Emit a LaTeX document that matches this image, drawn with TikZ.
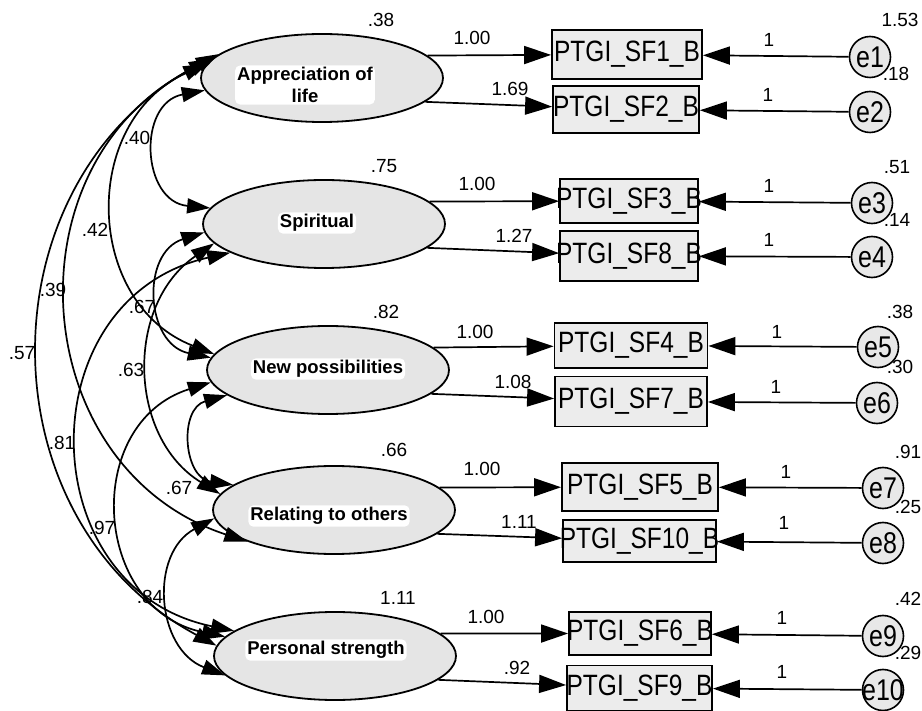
\documentclass[tikz,border=0pt]{standalone}
\usepackage{fontspec}
\setmainfont{Liberation Sans}
\usepackage{graphicx}
\usetikzlibrary{arrows.meta,shapes.geometric}
\newcommand\btxt[1]{\makebox[0pt]{\scalebox{1}[1.2]{#1}}}
\begin{document}
\begin{tikzpicture}[x=1pt,y=-1pt,
  lat/.style={ellipse, draw, line width=1.8pt, fill=gray!20, minimum width=242pt, minimum height=88pt, inner sep=0pt},
  ltxt/.style={font=\fontsize{18.5}{21.5}\selectfont\bfseries, fill=white, rounded corners=5pt, inner sep=2pt, align=center},
  obs/.style={rectangle, draw, line width=1.8pt, fill=gray!15, inner sep=0pt, font=\fontsize{24.5}{26}\selectfont},
  err/.style={circle, draw, line width=1.6pt, fill=gray!18, minimum size=41pt, inner sep=0pt, font=\fontsize{25}{26}\selectfont},
  num/.style={font=\fontsize{19}{21}\selectfont, inner sep=0pt},
  arr/.style={line width=1.7pt, -{Triangle[length=27pt,width=18pt]}},
  cov/.style={line width=1.7pt, {Triangle[length=23pt,width=15pt]}-{Triangle[length=23pt,width=15pt]}}]
\useasboundingbox (0,0) rectangle (922,711);
\fill[white] (0,0) rectangle (922,711);

% latent factors
\node[lat] (F1) at (322,78) {};
\node[lat] (F2) at (324,224) {};
\node[lat] (F3) at (328,370) {};
\node[lat] (F4) at (334,510) {};
\node[lat] (F5) at (335,656) {};

% covariances
\draw[cov] (F1.186) .. controls +(-67.9,12.8) and +(-68.8,-6.4) .. (F2.172);
\draw[cov] (F1.173) .. controls +(-126.8,58.0) and +(-130.0,-50.5) .. (F3.172);
\draw[cov] (F1.170) .. controls +(-207.6,105.5) and +(-221.3,-72.9) .. (F4.200);
\draw[cov] (F1.167) .. controls +(-237.3,124.7) and +(-236.2,-126.8) .. (F5.175);
\draw[cov] (F2.184) .. controls +(-63.8,20.3) and +(-65.6,-13.4) .. (F3.174);
\draw[cov] (F2.190) .. controls +(-89.3,61.2) and +(-92.3,-56.6) .. (F4.172);
\draw[cov] (F2.197) .. controls +(-203.4,45.5) and +(-204.2,-42.0) .. (F5.166);
\draw[cov] (F3.194) .. controls +(-48.5,13.5) and +(-49.8,-7.0) .. (F4.166);
\draw[cov] (F3.186) .. controls +(-129.3,40.8) and +(-132.9,-26.9) .. (F5.170);
\draw[cov] (F4.184) .. controls +(-65.2,35.2) and +(-69.2,-26.6) .. (F5.190);

% covariance labels
\node[num] (c12) at (137,138) {.40};
\node[num] (c13) at (95,230) {.42};
\node[num] (c14) at (53,290) {.39};
\node[num] (c15) at (22,353) {.57};
\node[num] (c23) at (142,307) {.67};
\node[num] (c24) at (131,370) {.63};
\node[num] (c25) at (62,443) {.81};
\node[num] (c34) at (179,488) {.67};
\node[num] (c35) at (102,528) {.97};
\node[num] (c45) at (150,597) {.84};

% factor labels
\node[ltxt] (T1) at (305,85) {Appreciation of\\life};
\node[ltxt] (T2) at (317,223) {Spiritual};
\node[ltxt] (T3) at (328,369) {New possibilities};
\node[ltxt] (T4) at (329,516) {Relating to others};
\node[ltxt] (T5) at (326,650) {Personal strength};

% factor variances
\node[num] (v1) at (381,20) {.38};
\node[num] (v2) at (384,166) {.75};
\node[num] (v3) at (386,312) {.82};
\node[num] (v4) at (394,450) {.66};
\node[num] (v5) at (398,598) {1.11};

% observed variables
\node[obs, minimum width=150pt, minimum height=49pt] (B1) at (627,54.5) {\btxt{PTGI\_SF1\_B}};
\node[obs, minimum width=146pt, minimum height=47pt] (B2) at (626,109.5) {\btxt{PTGI\_SF2\_B}};
\node[obs, minimum width=138pt, minimum height=44pt] (B3) at (629,201) {\btxt{PTGI\_SF3\_B}};
\node[obs, minimum width=138pt, minimum height=50pt] (B8) at (629,256) {\btxt{PTGI\_SF8\_B}};
\node[obs, minimum width=153pt, minimum height=45pt] (B4) at (631,345.5) {\btxt{PTGI\_SF4\_B}};
\node[obs, minimum width=152pt, minimum height=50pt] (B7) at (631,401.5) {\btxt{PTGI\_SF7\_B}};
\node[obs, minimum width=156pt, minimum height=48pt] (B5) at (640,487) {\btxt{PTGI\_SF5\_B}};
\node[obs, minimum width=153pt, minimum height=42pt] (B10) at (639.5,541) {\btxt{PTGI\_SF10\_B}};
\node[obs, minimum width=142pt, minimum height=43pt] (B6) at (640,633.5) {\btxt{PTGI\_SF6\_B}};
\node[obs, minimum width=145pt, minimum height=45pt] (B9) at (639.5,688) {\btxt{PTGI\_SF9\_B}};

% loadings
\draw[arr] (F1.12) -- (B1);
\draw[arr] (F1.-13) -- (B2);
\draw[arr] (F2.12) -- (B3);
\draw[arr] (F2.-13) -- (B8);
\draw[arr] (F3.12) -- (B4);
\draw[arr] (F3.-13) -- (B7);
\draw[arr] (F4.12) -- (B5);
\draw[arr] (F4.-13) -- (B10);
\draw[arr] (F5.12) -- (B6);
\draw[arr] (F5.-13) -- (B9);

\node[num] (l1) at (472,38) {1.00};
\node[num] (l2) at (510,89) {1.69};
\node[num] (l3) at (477,184) {1.00};
\node[num] (l8) at (514,236) {1.27};
\node[num] (l4) at (475,332) {1.00};
\node[num] (l7) at (513,382) {1.08};
\node[num] (l5) at (482,469) {1.00};
\node[num] (l10) at (519,522) {1.11};
\node[num] (l6) at (486,617) {1.00};
\node[num] (l9) at (517,668) {.92};

% error terms
\node[err] (e1) at (870,57) {\btxt{e1}};
\node[err] (e2) at (870,112) {\btxt{e2}};
\node[err] (e3) at (872,203) {\btxt{e3}};
\node[err] (e4) at (872,257) {\btxt{e4}};
\node[err] (e5) at (878,347) {\btxt{e5}};
\node[err] (e6) at (877,403) {\btxt{e6}};
\node[err] (e7) at (883,488) {\btxt{e7}};
\node[err] (e8) at (883,543) {\btxt{e8}};
\node[err] (e9) at (883,636) {\btxt{e9}};
\node[err] (e10) at (883,690) {\btxt{e10}};

\draw[arr] (e1) -- (B1);
\draw[arr] (e2) -- (B2);
\draw[arr] (e3) -- (B3);
\draw[arr] (e4) -- (B8);
\draw[arr] (e5) -- (B4);
\draw[arr] (e6) -- (B7);
\draw[arr] (e7) -- (B5);
\draw[arr] (e8) -- (B10);
\draw[arr] (e9) -- (B6);
\draw[arr] (e10) -- (B9);

\node[num] (o1) at (769,40) {1};
\node[num] (o2) at (768,95) {1};
\node[num] (o3) at (769,186) {1};
\node[num] (o4) at (769,240) {1};
\node[num] (o5) at (777,332) {1};
\node[num] (o6) at (776,387) {1};
\node[num] (o7) at (786,472) {1};
\node[num] (o8) at (784,523) {1};
\node[num] (o9) at (782,618) {1};
\node[num] (o10) at (782,672) {1};

% error variances
\node[num] (w1) at (900,20) {1.53};
\node[num] (w2) at (896,74) {.18};
\node[num] (w3) at (897,167) {.51};
\node[num] (w4) at (897,220) {.14};
\node[num] (w5) at (900,312) {.38};
\node[num] (w6) at (900,367) {.30};
\node[num] (w7) at (908,452) {.91};
\node[num] (w8) at (908,507) {.25};
\node[num] (w9) at (908,599) {.42};
\node[num] (w10) at (908,653) {.29};
\end{tikzpicture}
\end{document}
